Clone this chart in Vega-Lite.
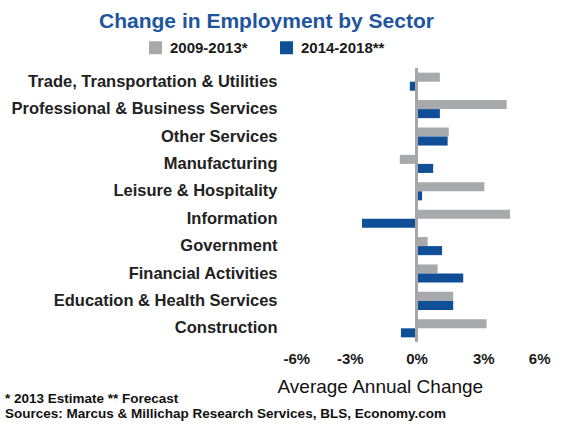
{
  "$schema": "https://vega.github.io/schema/vega-lite/v6.json",
  "padding": {"left": 5, "top": 10, "right": 10, "bottom": 8},
  "background": "white",
  "config": {
    "font": "Liberation Sans",
    "view": {"stroke": null},
    "concat": {"spacing": 0}
  },
  "title": {
    "text": ["* 2013 Estimate  ** Forecast", "Sources: Marcus & Millichap Research Services, BLS, Economy.com"],
    "orient": "bottom",
    "anchor": "start",
    "frame": "bounds",
    "fontSize": 13.5,
    "fontWeight": "bold",
    "color": "#111111",
    "lineHeight": 15,
    "offset": -4
  },
  "vconcat": [
    {
      "width": 267,
      "height": 274,
      "title": {
        "text": "Change in Employment by Sector",
        "fontSize": 21,
        "fontWeight": "bold",
        "color": "#1d559e",
        "anchor": "middle",
        "frame": "bounds",
        "dx": -11,
        "offset": 35
      },
      "data": {
        "values": [
          {"sector": "Trade, Transportation & Utilities", "series": "2009-2013*", "change": 1.05},
          {"sector": "Trade, Transportation & Utilities", "series": "2014-2018**", "change": -0.3},
          {"sector": "Professional & Business Services", "series": "2009-2013*", "change": 4.05},
          {"sector": "Professional & Business Services", "series": "2014-2018**", "change": 1.05},
          {"sector": "Other Services", "series": "2009-2013*", "change": 1.45},
          {"sector": "Other Services", "series": "2014-2018**", "change": 1.4},
          {"sector": "Manufacturing", "series": "2009-2013*", "change": -0.75},
          {"sector": "Manufacturing", "series": "2014-2018**", "change": 0.75},
          {"sector": "Leisure & Hospitality", "series": "2009-2013*", "change": 3.05},
          {"sector": "Leisure & Hospitality", "series": "2014-2018**", "change": 0.25},
          {"sector": "Information", "series": "2009-2013*", "change": 4.2},
          {"sector": "Information", "series": "2014-2018**", "change": -2.45},
          {"sector": "Government", "series": "2009-2013*", "change": 0.5},
          {"sector": "Government", "series": "2014-2018**", "change": 1.15},
          {"sector": "Financial Activities", "series": "2009-2013*", "change": 0.95},
          {"sector": "Financial Activities", "series": "2014-2018**", "change": 2.1},
          {"sector": "Education & Health Services", "series": "2009-2013*", "change": 1.65},
          {"sector": "Education & Health Services", "series": "2014-2018**", "change": 1.65},
          {"sector": "Construction", "series": "2009-2013*", "change": 3.15},
          {"sector": "Construction", "series": "2014-2018**", "change": -0.7}
        ]
      },
      "layer": [
        {
          "mark": {"type": "bar"},
          "encoding": {
            "y": {
              "field": "sector",
              "type": "nominal",
              "sort": ["Trade, Transportation & Utilities", "Professional & Business Services", "Other Services", "Manufacturing", "Leisure & Hospitality", "Information", "Government", "Financial Activities", "Education & Health Services", "Construction"],
              "scale": {"paddingInner": 0.34, "paddingOuter": 0.17},
              "axis": {
                "title": null,
                "ticks": false,
                "domain": false,
                "labelPadding": 6,
                "labelFontSize": 16.5,
                "labelFontWeight": "bold",
                "labelColor": "#222222",
                "labelLimit": 400,
                "minExtent": 278,
                "maxExtent": 278
              }
            },
            "yOffset": {"field": "series", "type": "nominal", "sort": ["2009-2013*", "2014-2018**"]},
            "x": {
              "field": "change",
              "type": "quantitative",
              "scale": {"domain": [-6, 6], "nice": false},
              "axis": {
                "values": [-6, -3, 0, 3, 6],
                "labelExpr": "datum.value + '%'",
                "grid": false,
                "ticks": false,
                "domain": false,
                "labelFontSize": 15,
                "labelFontWeight": "bold",
                "labelColor": "#1a1a1a",
                "labelPadding": 9,
                "title": "Average Annual Change",
                "titleFontSize": 19,
                "titleFontWeight": "normal",
                "titleColor": "#111111",
                "titleX": -6,
                "titleY": 35,
                "titleAlign": "left",
                "titleBaseline": "top"
              }
            },
            "color": {
              "field": "series",
              "type": "nominal",
              "sort": ["2009-2013*", "2014-2018**"],
              "scale": {"domain": ["2009-2013*", "2014-2018**"], "range": ["#a7a9ac", "#0f4f97"]},
              "legend": {
                "title": null,
                "orient": "none",
                "direction": "horizontal",
                "legendX": -135,
                "legendY": -28,
                "symbolType": "square",
                "symbolSize": 169,
                "symbolOpacity": 1,
                "labelFontSize": 15,
                "labelFontWeight": "bold",
                "labelColor": "#1a1a1a",
                "labelOffset": 7,
                "columnPadding": 31
              }
            }
          }
        },
        {
          "data": {"values": [{"zero": 0}]},
          "mark": {"type": "rule", "color": "#a6a6a6", "strokeWidth": 3},
          "encoding": {"x": {"field": "zero", "type": "quantitative"}}
        }
      ]
    }
  ]
}
